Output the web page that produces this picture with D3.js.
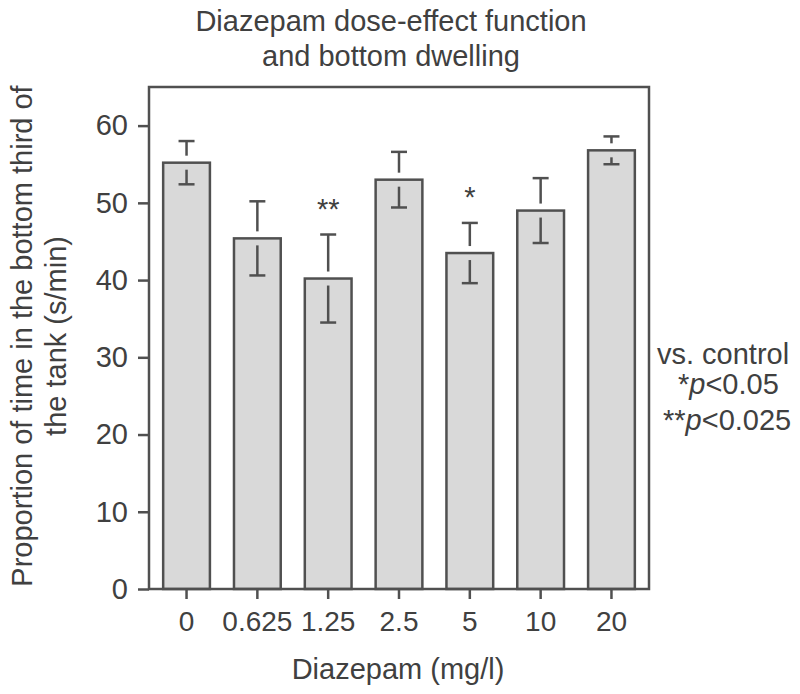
<!DOCTYPE html>
<html>
<head>
<meta charset="utf-8">
<script src="https://cdn.jsdelivr.net/npm/d3@7"></script>
<style>
  html, body { margin: 0; padding: 0; background: #fff; }
  svg { display: block; }
  text { font-family: "Liberation Sans", Arial, Helvetica, sans-serif; fill: #404040; }
</style>
</head>
<body>
<svg id="chart" width="800" height="694"></svg>
<script>
// ---- data ----
const doses = ["0", "0.625", "1.25", "2.5", "5", "10", "20"];
const means = [55.2, 45.4, 40.2, 53.0, 43.5, 49.0, 56.8];
const errors = [2.8, 4.8, 5.7, 3.6, 3.9, 4.2, 1.8];
const significance = ["", "", "**", "", "*", "", ""];
const yTicks = [0, 10, 20, 30, 40, 50, 60];
const titleLines = ["Diazepam dose-effect function", "and bottom dwelling"];
const yTitleLines = ["Proportion of time in the bottom third of", "the tank (s/min)"];
const xTitle = "Diazepam (mg/l)";

// ---- layout ----
const svg = d3.select("#chart");
const plot = { left: 149, right: 649, top: 87, bottom: 589 };
const ink = "#505050";
const fs = 29;

const x = d3.scaleBand().domain(doses).range([plot.left, plot.right])
  .paddingInner(0.34).paddingOuter(0.2);
const y = d3.scaleLinear().domain([0, 65]).range([plot.bottom, plot.top]);

// bars
const data = doses.map((d, i) => ({ dose: d, mean: means[i], err: errors[i], sig: significance[i] }));
const g = svg.append("g");
g.selectAll("rect.bar").data(data).join("rect")
  .attr("class", "bar")
  .attr("x", d => x(d.dose))
  .attr("y", d => y(d.mean))
  .attr("width", x.bandwidth())
  .attr("height", d => y(0) - y(d.mean))
  .attr("fill", "#d9d9d9")
  .attr("stroke", ink)
  .attr("stroke-width", 2.5);

// error bars: whiskers stop short of the bar top, as in the original
const capW = 16, gap = 7;
const cx = d => x(d.dose) + x.bandwidth() / 2;
const eb = g.selectAll("g.err").data(data).join("g").attr("class", "err")
  .attr("stroke", ink).attr("stroke-width", 2.5).attr("fill", "none");
eb.append("line")
  .attr("x1", cx).attr("x2", cx)
  .attr("y1", d => y(d.mean + d.err))
  .attr("y2", d => Math.max(y(d.mean + d.err), y(d.mean) - gap));
eb.append("line")
  .attr("x1", cx).attr("x2", cx)
  .attr("y1", d => Math.min(y(d.mean - d.err), y(d.mean) + gap))
  .attr("y2", d => y(d.mean - d.err));
eb.append("line")
  .attr("x1", d => cx(d) - capW / 2)
  .attr("x2", d => cx(d) + capW / 2)
  .attr("y1", d => y(d.mean + d.err))
  .attr("y2", d => y(d.mean + d.err));
eb.append("line")
  .attr("x1", d => cx(d) - capW / 2)
  .attr("x2", d => cx(d) + capW / 2)
  .attr("y1", d => y(d.mean - d.err))
  .attr("y2", d => y(d.mean - d.err));

// significance stars
g.selectAll("text.sig").data(data.filter(d => d.sig)).join("text")
  .attr("class", "sig")
  .attr("x", cx)
  .attr("y", d => y(d.mean + d.err) - 16)
  .attr("text-anchor", "middle")
  .attr("font-size", fs)
  .text(d => d.sig);

// frame
svg.append("rect")
  .attr("x", plot.left).attr("y", plot.top)
  .attr("width", plot.right - plot.left).attr("height", plot.bottom - plot.top)
  .attr("fill", "none").attr("stroke", ink).attr("stroke-width", 2.5);

// y axis
const yAxis = svg.append("g").attr("transform", `translate(${plot.left},0)`)
  .call(d3.axisLeft(y).tickValues(yTicks).tickSize(11).tickPadding(10));
yAxis.select(".domain").remove();
yAxis.selectAll(".tick line").attr("stroke", ink).attr("stroke-width", 2.5);
yAxis.selectAll(".tick text").attr("font-size", fs).attr("fill", "#404040")
  .attr("font-family", "Liberation Sans, Arial, sans-serif");

// x axis
const xAxis = svg.append("g").attr("transform", `translate(0,${plot.bottom})`)
  .call(d3.axisBottom(x).tickSize(10).tickPadding(12));
xAxis.select(".domain").remove();
xAxis.selectAll(".tick line").attr("stroke", ink).attr("stroke-width", 2.5);
xAxis.selectAll(".tick text").attr("font-size", 28).attr("fill", "#404040")
  .attr("font-family", "Liberation Sans, Arial, sans-serif");

// title
svg.append("g").selectAll("text").data(titleLines).join("text")
  .attr("x", 391).attr("y", (d, i) => 31 + i * 35)
  .attr("text-anchor", "middle").attr("font-size", fs)
  .text(d => d);

// x title
svg.append("text").attr("x", 398).attr("y", 679)
  .attr("text-anchor", "middle").attr("font-size", fs).text(xTitle);

// y title
svg.append("g").selectAll("text").data(yTitleLines).join("text")
  .attr("transform", (d, i) => `translate(${32 + i * 34},336) rotate(-90)`)
  .attr("text-anchor", "middle").attr("font-size", fs)
  .text(d => d);

// legend
const leg = svg.append("g").attr("font-size", fs);
leg.append("text").attr("x", 657).attr("y", 364).text("vs. control");
const l2 = leg.append("text").attr("x", 678).attr("y", 394);
l2.append("tspan").text("*");
l2.append("tspan").attr("font-style", "italic").text("p");
l2.append("tspan").text("<0.05");
const l3 = leg.append("text").attr("x", 663).attr("y", 430);
l3.append("tspan").text("**");
l3.append("tspan").attr("font-style", "italic").text("p");
l3.append("tspan").text("<0.025");
</script>
</body>
</html>
